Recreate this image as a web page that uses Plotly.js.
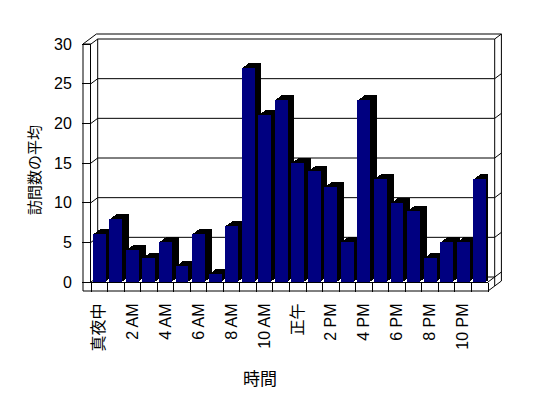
<!DOCTYPE html>
<html>
<head>
<meta charset="utf-8">
<script src="https://cdn.plot.ly/plotly-3.0.1.min.js"></script>
<style>html,body{margin:0;padding:0;background:#fff;}#chart{width:548px;height:398px;}</style>
</head>
<body>
<div id="chart"></div>
<script>
// ---- data ----
const hours = ['真夜中','1 AM','2 AM','3 AM','4 AM','5 AM','6 AM','7 AM','8 AM','9 AM','10 AM','11 AM',
               '正午','1 PM','2 PM','3 PM','4 PM','5 PM','6 PM','7 PM','8 PM','9 PM','10 PM','11 PM'];
const avgVisits = [6, 8, 4, 3, 5, 2, 6, 1, 7, 27, 21, 23, 15, 14, 12, 5, 23, 13, 10, 9, 3, 5, 5, 13];
const yTicks = [0, 5, 10, 15, 20, 25, 30];
const xTitle = '時間';
const yTitle = '訪問数の平均';

// ---- geometry (pixels) ----
const Wd = 548, Ht = 398;
const L = 91, R = 488, T = 44, B = 282;
const DX = 6.7, DY = 5;            // 3-D depth offset
const FL = 83, FD = 9;             // wall / floor slab front edge and thickness
const nCat = hours.length;
const catPx = (R - L) / nCat;
const unitPx = (B - T) / 30;
const FONT = '"Liberation Sans", "Noto Sans CJK JP", sans-serif';
const CJK = '"Noto Sans CJK JP", sans-serif';

const px = x => (x - L) / (R - L);
const py = y => (B - y) / (B - T);
const shapes = [];
function seg(x0, y0, x1, y1) {
  shapes.push({type: 'line', xref: 'paper', yref: 'paper', layer: 'below',
    x0: px(x0), y0: py(y0), x1: px(x1), y1: py(y1), line: {color: '#000', width: 1}});
}
// back wall gridlines + wall edges
yTicks.forEach(v => {
  const yf = B - v * unitPx, yb = yf - DY;
  seg(L + DX, yb, R + DX, yb);            // back wall gridline
  seg(L, yf, L + DX, yb);                 // left wall inner face
  seg(R + DX, yb, R + 2 * DX, yb - DY);   // right edge of back wall
});
seg(L + DX, T - DY, L + DX, B - DY);
seg(R + DX, T - DY, R + DX, B + FD - DY);
seg(FL, T, FL, B + FD);                   // left wall front edge
seg(FL, T, L, T);
seg(FL, T, FL + 2 * DX, T - 2 * DY);      // outer top
seg(FL + 2 * DX, T - 2 * DY, R + 2 * DX, T - 2 * DY);
seg(R + 2 * DX, T - 2 * DY, R + 2 * DX, B + FD - 2 * DY);
seg(FL, B + FD, R, B + FD);               // floor bottom
seg(R, B, R + DX, B - DY);
seg(R, B + FD, R + 2 * DX, B + FD - 2 * DY);

// ---- traces ----
const barW = 0.78;
const traces = [];
const steps = 5;
for (let k = steps; k >= 1; k--) {
  const f = k / steps;
  traces.push({type: 'bar', x: hours, y: avgVisits, width: barW,
    offset: -barW / 2 + f * DX / catPx, base: f * DY / unitPx,
    marker: {color: '#000', line: {width: 0}}, hoverinfo: 'skip', showlegend: false});
}
traces.push({type: 'bar', x: hours, y: avgVisits, width: barW, offset: -barW / 2,
  marker: {color: '#000080', line: {width: 0}}, showlegend: false, name: yTitle});

const layout = {
  width: Wd, height: Ht,
  margin: {l: L, r: Wd - R, t: T, b: Ht - B},
  paper_bgcolor: '#fff', plot_bgcolor: 'rgba(0,0,0,0)',
  barmode: 'overlay', bargap: 0,
  font: {family: FONT, color: '#000', size: 16},
  xaxis: {type: 'category', range: [-0.5, nCat - 0.5], showgrid: false, zeroline: false,
    showline: true, linecolor: '#000', linewidth: 1,
    tickmode: 'array', tickvals: hours, ticktext: hours.map((h, i) => i % 2 === 0 ? h : ''),
    tickson: 'boundaries', ticks: 'outside', ticklen: FD, tickcolor: '#000', tickwidth: 1,
    tickangle: -90, ticklabelstandoff: 14, tickfont: {family: FONT, size: 16, color: '#000'}},
  yaxis: {range: [0, 30], showgrid: false, zeroline: false, showline: true, linecolor: '#000',
    tickmode: 'array', tickvals: yTicks, ticks: 'outside', ticklen: L - FL, tickcolor: '#000',
    ticklabelstandoff: 7, tickfont: {family: FONT, size: 16, color: '#000'}},
  shapes: shapes,
  annotations: [
    {text: xTitle, xref: 'paper', yref: 'paper', x: px(260), y: py(377), showarrow: false,
      xanchor: 'center', yanchor: 'middle', font: {family: CJK, size: 17, color: '#000'}},
    {text: yTitle, xref: 'paper', yref: 'paper', x: px(33), y: py(170), showarrow: false,
      textangle: -90, xanchor: 'center', yanchor: 'middle', font: {family: CJK, size: 15, color: '#000'}}
  ]
};
Plotly.newPlot('chart', traces, layout, {staticPlot: true, displayModeBar: false});
</script>
</body>
</html>
